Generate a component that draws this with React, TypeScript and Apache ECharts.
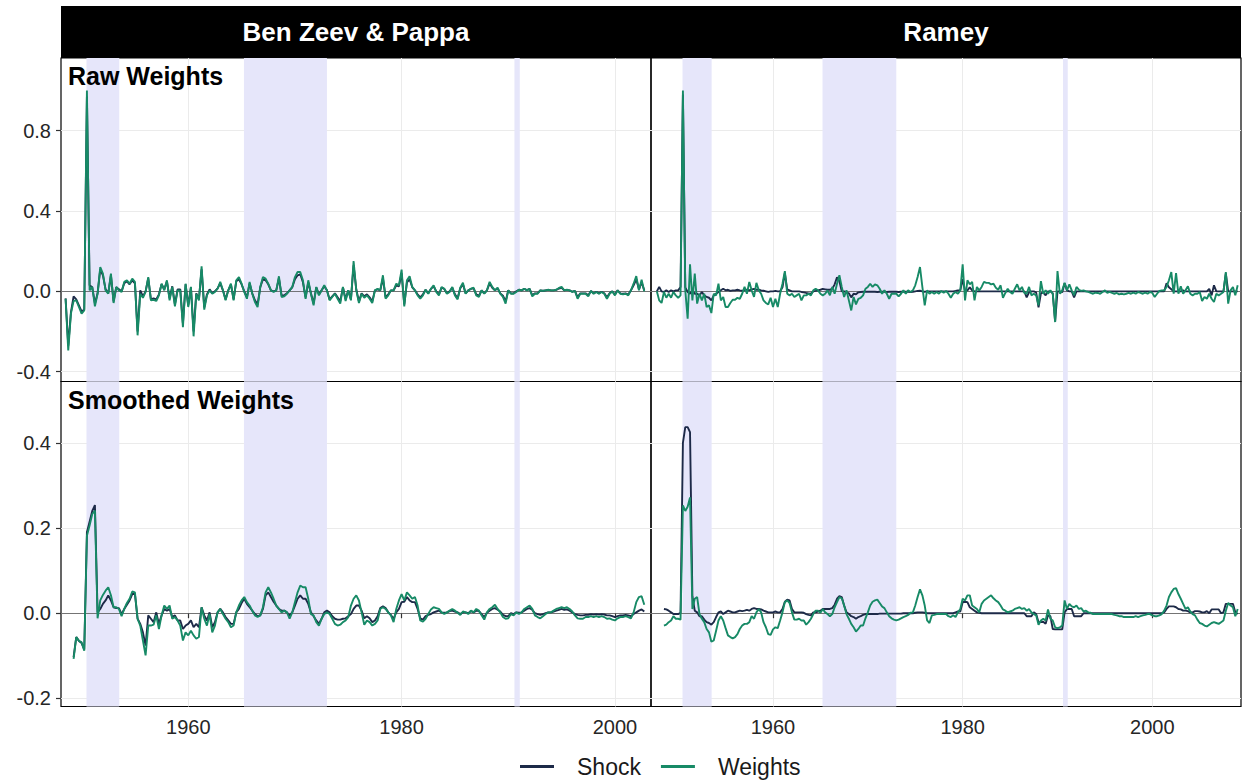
import React, { useEffect, useRef } from "react";
import * as echarts from "echarts";

// ---------- labels ----------
const COLUMN_TITLES = ["Ben Zeev & Pappa", "Ramey"];
const ROW_TITLES = ["Raw Weights", "Smoothed Weights"];
const SERIES_NAMES = ["Shock", "Weights"];
const X_TICKS = [1960, 1980, 2000];
const Y_TICKS_RAW = [-0.4, 0.0, 0.4, 0.8];
const Y_TICKS_SMOOTH = [-0.2, 0.0, 0.2, 0.4];

// shaded war periods (years)
const SHADED_PERIODS: [number, number][] = [
  [1950.46, 1953.53],
  [1965.22, 1973.0],
  [1990.58, 1991.08],
];

// first quarter of each series (year + (q-1)/4)
const BZP_RAW_START = 1948.5;
const BZP_SMOOTH_START = 1949.25;
const RAMEY_RAW_START = 1947.75;
const RAMEY_SMOOTH_START = 1948.5;

// ---------- Ben Zeev & Pappa: raw ----------
const BZP_RAW_WEIGHTS = [
  -0.037, -0.294, -0.111, -0.048, -0.045, -0.078, -0.111, -0.095, 1.0, 0.005,
  0.022, -0.075, -0.012, 0.121, 0.088, 0.005, -0.012, 0.088, -0.058, 0.022,
  0.005, -0.003, 0.047, 0.055, 0.038, 0.063, 0.047, -0.219, -0.012, -0.032,
  -0.003, 0.071, -0.045, -0.042, -0.048, -0.02, 0.038, 0.005, 0.055, -0.045,
  0.022, -0.075, 0.005, 0.005, -0.178, 0.038, -0.078, 0.022, -0.224, -0.012,
  -0.045, 0.125, -0.091, -0.02, 0.005, -0.012, -0.003, 0.013, 0.047, 0.005,
  -0.045, 0.005, 0.038, -0.045, 0.055, 0.071, 0.038, -0.003, -0.037, 0.047,
  -0.012, -0.053, -0.078, 0.022, 0.071, 0.063, 0.038, 0.005, -0.003, 0.005,
  0.075, -0.028, -0.025, -0.012, 0.005, 0.022, 0.071, 0.096, 0.096, 0.055,
  -0.037, 0.055, -0.012, -0.07, 0.022, -0.02, 0.005, 0.03, 0.005, -0.045,
  -0.028, -0.012, -0.037, -0.061, 0.022, -0.048, 0.005, -0.045, 0.151, 0.005,
  -0.058, -0.012, -0.032, -0.02, -0.037, -0.058, 0.005, 0.013, 0.005, 0.08,
  -0.037, -0.02, 0.005, 0.005, 0.038, 0.03, 0.108, -0.075, 0.055, 0.075,
  0.022, 0.005, -0.02, -0.037, -0.02, 0.008, -0.012, 0.013, 0.03, -0.003,
  -0.02, 0.022, 0.013, -0.012, -0.003, 0.022, -0.02, -0.04, 0.018, 0.043,
  -0.012, 0.005, 0.013, 0.018, -0.02, -0.028, 0.005, -0.012, 0.005, 0.047,
  0.022, 0.005, 0.018, -0.012, -0.028, -0.061, 0.005, -0.012, -0.012, -0.003,
  0.008, 0.005, 0.013, 0.005, 0.013, -0.025, -0.012, -0.012, 0.005, 0.002,
  0.005, 0.008, 0.005, 0.005, 0.008, 0.017, 0.022, 0.005, 0.008, 0.005,
  -0.003, 0.002, -0.037, -0.012, -0.012, -0.012, -0.025, 0.002, -0.012, -0.003,
  -0.012, -0.003, -0.012, -0.037, -0.012, 0.0, -0.02, 0.005, -0.012, -0.015,
  -0.012, -0.02, 0.005, 0.038, 0.076, 0.005, 0.058, 0.0,
];
const BZP_RAW_SHOCK = [
  -0.035, -0.27, -0.105, -0.025, -0.04, -0.07, -0.1, -0.09, 0.97, 0.03,
  0.02, -0.06, -0.01, 0.11, 0.08, 0.01, -0.01, 0.08, -0.05, 0.02,
  0.01, 0.0, 0.04, 0.05, 0.035, 0.055, 0.04, -0.2, 0.005, -0.025,
  0.0, 0.065, -0.04, -0.035, -0.04, -0.015, 0.035, 0.01, 0.05, -0.035,
  0.025, -0.065, 0.01, 0.01, -0.16, 0.035, -0.07, 0.02, -0.2, -0.01,
  -0.04, 0.11, -0.08, -0.015, 0.01, -0.01, 0.0, 0.015, 0.04, 0.005,
  -0.04, 0.005, 0.035, -0.04, 0.05, 0.06, 0.035, 0.0, -0.03, 0.04,
  -0.01, -0.045, -0.065, 0.02, 0.06, 0.055, 0.035, 0.005, 0.0, 0.005,
  0.065, -0.02, -0.02, -0.01, 0.005, 0.02, 0.06, 0.08, 0.085, 0.045,
  -0.03, 0.045, -0.01, -0.06, 0.02, -0.015, 0.005, 0.025, 0.005, -0.04,
  -0.025, -0.01, -0.03, -0.05, 0.02, -0.04, 0.005, -0.04, 0.13, 0.01,
  -0.05, -0.01, -0.025, -0.015, -0.03, -0.05, 0.005, 0.01, 0.005, 0.065,
  -0.03, -0.015, 0.005, 0.005, 0.03, 0.025, 0.09, -0.065, 0.045, 0.06,
  0.02, 0.005, -0.015, -0.03, -0.015, 0.008, -0.01, 0.012, 0.025, 0.0,
  -0.015, 0.018, 0.012, -0.01, 0.0, 0.018, -0.015, -0.035, 0.015, 0.035,
  -0.01, 0.005, 0.012, 0.015, -0.015, -0.022, 0.005, -0.01, 0.005, 0.04,
  0.018, 0.005, 0.015, -0.01, -0.022, -0.05, 0.005, -0.01, -0.01, 0.0,
  0.008, 0.005, 0.012, 0.006, 0.012, -0.02, -0.01, -0.01, 0.005, 0.003,
  0.005, 0.007, 0.005, 0.005, 0.007, 0.014, 0.018, 0.005, 0.007, 0.005,
  -0.002, 0.002, -0.03, -0.01, -0.01, -0.01, -0.02, 0.002, -0.01, -0.002,
  -0.01, -0.002, -0.01, -0.03, -0.01, 0.0, -0.016, 0.005, -0.01, -0.012,
  -0.01, -0.016, 0.005, 0.03, 0.06, 0.01, 0.045, 0.005,
];

// ---------- Ben Zeev & Pappa: smoothed ----------
const BZP_SMOOTH_WEIGHTS = [
  -0.107, -0.056, -0.065, -0.068, -0.088, 0.182, 0.206, 0.233, 0.241, -0.012,
  0.03, 0.043, 0.053, 0.061, 0.042, 0.014, 0.014, 0.01, -0.007, 0.01,
  0.024, 0.034, 0.051, 0.049, -0.013, -0.029, -0.064, -0.099, -0.029, -0.029,
  -0.027, -0.005, -0.037, -0.005, 0.018, 0.01, 0.018, -0.013, -0.009, -0.017,
  -0.029, -0.064, -0.045, -0.052, -0.041, -0.052, -0.06, -0.056, 0.014, -0.013,
  -0.029, -0.002, -0.045, -0.029, 0.002, 0.01, -0.002, -0.013, -0.021, -0.033,
  -0.029, 0.002, 0.018, 0.03, 0.038, 0.026, 0.018, 0.006, -0.005, -0.009,
  -0.005, 0.014, 0.049, 0.061, 0.049, 0.034, 0.018, 0.01, 0.002, 0.006,
  0.002, -0.013, 0.002, 0.026, 0.049, 0.065, 0.061, 0.061, 0.034, -0.002,
  -0.005, -0.021, -0.029, -0.013, -0.002, 0.002, -0.002, -0.013, -0.025, -0.029,
  -0.027, -0.021, -0.017, -0.009, 0.018, 0.034, 0.042, 0.03, 0.002, -0.027,
  -0.017, -0.021, -0.029, -0.025, -0.017, 0.01, 0.014, 0.01, 0.002, -0.005,
  -0.021, 0.01, 0.03, 0.045, 0.03, 0.049, 0.042, 0.034, 0.038, 0.018,
  -0.017, -0.02, -0.013, -0.002, 0.009, 0.014, 0.012, 0.01, 0.002, -0.002,
  0.002, 0.006, 0.01, 0.006, 0.001, -0.004, 0.004, 0.002, -0.002, 0.006,
  0.002, 0.01, 0.006, -0.005, -0.015, 0.002, 0.01, 0.014, 0.02, 0.01,
  0.002, -0.009, -0.013, -0.012, -0.002, -0.005, 0.002, -0.002, 0.002, 0.01,
  0.014, 0.018, 0.01, -0.005, -0.009, -0.012, -0.007, -0.002, 0.002, 0.002,
  0.006, 0.01, 0.012, 0.014, 0.012, 0.014, 0.01, 0.004, -0.005, -0.012,
  -0.013, -0.013, -0.009, -0.009, -0.007, -0.009, -0.007, -0.009, -0.007, -0.009,
  -0.013, -0.012, -0.015, -0.017, -0.012, -0.009, -0.009, -0.007, -0.009, -0.012,
  0.002, 0.026, 0.038, 0.04, 0.02,
];
const BZP_SMOOTH_SHOCK = [
  -0.103, -0.056, -0.065, -0.07, -0.085, 0.19, 0.215, 0.24, 0.254, 0.002,
  0.01, 0.022, 0.03, 0.042, 0.03, 0.014, 0.012, 0.012, -0.002, 0.01,
  0.02, 0.03, 0.045, 0.045, -0.013, -0.025, -0.045, -0.076, -0.005, -0.013,
  -0.021, 0.002, -0.025, -0.005, 0.01, 0.006, 0.01, -0.009, -0.005, -0.017,
  -0.017, -0.037, -0.029, -0.025, -0.017, -0.033, -0.025, -0.033, 0.014, -0.005,
  -0.017, 0.002, -0.033, -0.021, 0.002, 0.01, 0.002, -0.009, -0.017, -0.025,
  -0.025, 0.002, 0.01, 0.024, 0.034, 0.022, 0.014, 0.006, -0.002, -0.007,
  -0.005, 0.01, 0.042, 0.049, 0.038, 0.027, 0.018, 0.01, 0.006, 0.006,
  0.002, -0.005, 0.002, 0.018, 0.034, 0.042, 0.034, 0.034, 0.022, 0.002,
  -0.007, -0.017, -0.025, -0.013, 0.002, 0.006, 0.002, -0.007, -0.013, -0.015,
  -0.015, -0.013, -0.012, -0.007, -0.002, 0.01, 0.018, 0.018, 0.006, -0.012,
  -0.007, -0.012, -0.021, -0.017, -0.007, 0.012, 0.016, 0.012, 0.002, -0.004,
  -0.013, 0.002, 0.01, 0.026, 0.027, 0.038, 0.03, 0.026, 0.026, 0.01,
  -0.012, -0.015, -0.007, -0.004, -0.002, 0.002, 0.004, 0.006, 0.002, 0.001,
  0.002, 0.005, 0.006, 0.004, 0.002, -0.002, 0.002, 0.002, 0.0, 0.005,
  0.002, 0.006, 0.005, -0.002, -0.009, 0.001, 0.006, 0.01, 0.012, 0.008,
  0.004, -0.004, -0.007, -0.007, 0.0, -0.002, 0.002, 0.001, 0.002, 0.006,
  0.01, 0.012, 0.008, 0.0, -0.002, -0.004, -0.002, 0.0, 0.002, 0.002,
  0.004, 0.006, 0.008, 0.01, 0.008, 0.009, 0.006, 0.002, -0.002, -0.004,
  -0.005, -0.005, -0.004, -0.004, -0.002, -0.003, -0.002, -0.003, -0.002, -0.003,
  -0.005, -0.005, -0.007, -0.009, -0.007, -0.005, -0.005, -0.004, -0.005, -0.007,
  -0.002, 0.002, 0.006, 0.009, 0.004,
];

// ---------- Ramey: raw ----------
const RAMEY_RAW_WEIGHTS = [
  0.0, -0.045, -0.058, -0.003, -0.032, -0.012, -0.032, -0.003, -0.02, -0.032,
  -0.02, 1.0, 0.005, -0.136, 0.135, -0.045, 0.088, -0.061, -0.012, -0.045,
  -0.012, -0.078, -0.07, -0.108, -0.012, -0.02, 0.038, -0.045, -0.028, -0.078,
  -0.078, -0.058, -0.042, -0.042, -0.032, -0.037, -0.012, 0.022, -0.012, 0.047,
  0.005, -0.028, 0.042, 0.005, -0.012, -0.045, -0.058, -0.065, -0.032, -0.078,
  -0.037, -0.078, -0.012, 0.038, 0.101, -0.012, -0.02, -0.012, -0.028, -0.02,
  -0.012, -0.045, -0.02, -0.02, -0.012, -0.02, 0.005, 0.013, 0.005, -0.012,
  -0.02, -0.012, 0.005, -0.02, 0.022, -0.012, 0.038, 0.08, 0.022, -0.028,
  0.005, -0.045, -0.095, -0.028, -0.065, -0.037, -0.032, -0.02, 0.013, 0.022,
  0.038, 0.022, 0.035, 0.03, 0.013, -0.012, 0.005, -0.012, -0.037, -0.012,
  -0.012, -0.012, -0.025, -0.012, 0.005, -0.012, 0.005, -0.003, 0.005, 0.03,
  0.071, 0.121, 0.022, -0.07, 0.005, -0.012, -0.003, -0.012, -0.003, -0.012,
  0.002, -0.007, 0.002, -0.012, -0.032, -0.012, -0.003, -0.012, 0.005, 0.135,
  -0.045, 0.055, 0.035, 0.047, -0.045, 0.022, 0.005, 0.022, 0.047, 0.042,
  0.042, 0.035, 0.038, 0.018, 0.008, 0.03, -0.032, -0.008, 0.013, -0.003,
  -0.012, 0.013, 0.035, 0.005, 0.022, -0.008, -0.012, 0.022, -0.02, -0.012,
  -0.02, -0.07, 0.051, -0.012, 0.005, -0.012, 0.005, -0.012, -0.153, 0.101,
  -0.012, 0.005, 0.042, 0.005, 0.035, 0.005, -0.02, 0.022, 0.008, 0.002,
  0.005, 0.0, -0.003, -0.008, -0.012, -0.007, -0.008, -0.012, -0.003, 0.005,
  -0.008, -0.003, -0.008, -0.012, -0.008, -0.015, -0.012, -0.015, -0.012, -0.008,
  -0.012, -0.007, -0.012, -0.003, -0.008, -0.012, -0.007, -0.012, -0.003, -0.008,
  -0.028, -0.012, 0.002, 0.005, 0.005, 0.022, 0.055, 0.096, -0.012, 0.091,
  -0.012, 0.025, -0.012, 0.005, 0.025, -0.012, -0.02, -0.012, -0.012, -0.003,
  -0.048, -0.028, -0.037, -0.012, -0.037, -0.053, -0.012, -0.02, -0.012, -0.003,
  0.096, -0.061, 0.005, 0.022, -0.02, 0.03,
];
const RAMEY_RAW_SHOCK = [
  0.0, 0.022, 0.0, -0.003, 0.005, -0.003, 0.005, 0.0, 0.005, 0.005,
  0.022, 0.98, 0.02, -0.003, -0.012, 0.005, -0.012, -0.012, -0.02, -0.003,
  -0.02, -0.028, -0.032, -0.045, -0.02, -0.012, -0.003, 0.005, 0.013, 0.005,
  0.008, 0.002, 0.005, 0.005, 0.008, 0.005, 0.003, 0.005, 0.008, 0.005,
  0.01, 0.012, 0.008, 0.008, 0.005, 0.003, 0.0, -0.003, 0.0, 0.0,
  0.002, 0.0, 0.0, 0.02, 0.09, 0.01, 0.005, 0.0, 0.0, 0.0,
  0.0, -0.003, -0.005, -0.008, -0.01, -0.012, 0.0, 0.002, 0.005, 0.008,
  0.012, 0.01, 0.008, 0.008, 0.012, 0.035, 0.07, 0.05, 0.0, 0.0,
  -0.005, -0.01, -0.03, -0.012, -0.015, -0.005, -0.003, -0.002, -0.002, -0.002,
  -0.002, -0.002, -0.002, -0.003, -0.002, -0.002, -0.002, -0.003, -0.002, -0.002,
  -0.002, -0.002, -0.003, -0.002, -0.002, -0.002, -0.002, -0.003, -0.002, 0.0,
  0.002, 0.003, 0.0, -0.002, 0.0, 0.0, 0.0, 0.0, 0.0, 0.0,
  0.0, 0.0, 0.0, 0.0, 0.0, 0.0, 0.002, 0.005, 0.005, 0.06,
  0.003, 0.005, 0.02, 0.005, 0.0, 0.0, 0.0, 0.0, 0.0, 0.0,
  0.0, 0.0, 0.0, 0.0, 0.0, 0.0, 0.0, 0.0, 0.0, 0.0,
  0.0, 0.0, 0.0, 0.0, 0.0, 0.0, -0.03, -0.005, 0.0, 0.0,
  -0.005, -0.08, -0.01, -0.005, -0.02, 0.0, 0.0, -0.01, -0.15, 0.0,
  0.0, -0.005, 0.04, 0.005, 0.0, 0.0, -0.03, 0.0, 0.0, 0.0,
  0.0, 0.0, 0.0, 0.0, 0.0, 0.0, 0.0, 0.0, 0.0, 0.0,
  0.0, 0.0, 0.0, 0.0, 0.0, 0.0, 0.0, 0.0, 0.0, 0.0,
  0.0, 0.0, 0.0, 0.0, 0.0, 0.0, 0.0, 0.0, 0.0, 0.0,
  0.0, 0.0, 0.0, 0.0, 0.0, 0.04, 0.02, 0.01, 0.0, 0.0,
  0.0, 0.0, 0.005, 0.0, 0.0, 0.0, 0.0, 0.0, 0.0, 0.0,
  0.0, 0.0, 0.0, 0.012, -0.02, 0.03, 0.0, 0.0, 0.0, 0.0,
  0.09, 0.0, 0.0, 0.0, 0.0, 0.0,
];

// ---------- Ramey: smoothed ----------
const RAMEY_SMOOTH_WEIGHTS = [
  -0.029, -0.027, -0.021, -0.017, -0.007, -0.013, -0.013, -0.015, 0.253, 0.24,
  0.25, 0.272, 0.01, 0.034, 0.038, -0.002, -0.013, -0.021, -0.037, -0.045,
  -0.067, -0.064, -0.041, -0.017, -0.007, -0.017, -0.035, -0.052, -0.056, -0.059,
  -0.056, -0.049, -0.037, -0.029, -0.025, -0.025, -0.021, -0.007, -0.013, 0.002,
  0.01, 0.002, -0.021, -0.033, -0.049, -0.051, -0.038, -0.033, -0.035, -0.017,
  0.002, 0.026, 0.03, 0.024, 0.002, -0.015, -0.015, -0.013, -0.017, -0.017,
  -0.027, -0.021, -0.013, -0.002, 0.006, 0.006, 0.001, 0.01, 0.002, -0.002,
  -0.007, -0.002, 0.014, 0.026, 0.038, 0.035, 0.018, -0.002, -0.013, -0.025,
  -0.033, -0.043, -0.037, -0.029, -0.029, -0.012, 0.002, 0.018, 0.027, 0.03,
  0.032, 0.024, 0.016, 0.012, 0.002, -0.007, -0.012, -0.015, -0.017, -0.015,
  -0.012, -0.009, -0.007, -0.004, 0.001, 0.002, 0.018, 0.038, 0.056, 0.042,
  0.018, -0.017, -0.023, -0.005, -0.004, -0.002, -0.002, -0.002, -0.002, -0.002,
  -0.007, -0.009, -0.005, -0.009, 0.002, 0.01, 0.034, 0.03, 0.042, 0.042,
  0.018, 0.014, 0.01, 0.002, 0.022, 0.03, 0.034, 0.038, 0.042, 0.035,
  0.03, 0.026, 0.018, 0.009, 0.006, 0.002, 0.004, 0.006, 0.01, 0.012,
  0.014, 0.01, 0.012, 0.006, 0.01, 0.002, -0.002, -0.005, -0.027, -0.017,
  -0.013, -0.017, 0.009, -0.013, -0.017, -0.033, -0.035, -0.033, -0.029, 0.03,
  0.01, 0.022, 0.016, 0.014, 0.018, 0.01, 0.012, 0.004, 0.006, 0.002,
  0.001, -0.002, -0.002, -0.002, -0.002, -0.002, -0.002, -0.002, -0.002, -0.002,
  -0.004, -0.005, -0.007, -0.007, -0.009, -0.009, -0.009, -0.009, -0.009, -0.007,
  -0.009, -0.007, -0.005, -0.004, -0.002, -0.002, -0.005, -0.007, -0.007, -0.005,
  -0.002, 0.006, 0.018, 0.038, 0.049, 0.057, 0.059, 0.045, 0.034, 0.022,
  0.01, 0.014, 0.004, -0.002, -0.005, -0.015, -0.023, -0.025, -0.029, -0.031,
  -0.027, -0.023, -0.021, -0.023, -0.025, -0.021, -0.017, 0.006, 0.024, 0.018,
  0.014, -0.007, 0.01,
];
const RAMEY_SMOOTH_SHOCK = [
  0.01, 0.009, 0.006, 0.002, -0.002, -0.002, -0.002, 0.001, 0.4, 0.437,
  0.437, 0.425, 0.04, 0.006, 0.002, -0.007, -0.007, -0.015, -0.021, -0.023,
  -0.027, -0.021, -0.009, 0.002, 0.004, -0.002, 0.002, 0.006, 0.004, 0.002,
  0.002, 0.004, 0.006, 0.005, 0.006, 0.008, 0.006, 0.01, 0.012, 0.01,
  0.01, 0.009, 0.006, 0.004, 0.002, 0.002, 0.002, 0.004, 0.002, 0.002,
  0.01, 0.027, 0.032, 0.03, 0.01, 0.002, 0.002, 0.002, 0.002, 0.001,
  -0.002, -0.004, -0.005, 0.002, 0.002, 0.004, 0.006, 0.01, 0.01, 0.01,
  0.01, 0.012, 0.02, 0.034, 0.04, 0.038, 0.018, 0.002, -0.002, -0.007,
  -0.009, -0.013, -0.009, -0.007, -0.004, -0.002, -0.002, -0.002, -0.002, -0.002,
  -0.002, -0.001, -0.001, -0.001, -0.001, -0.001, -0.001, -0.001, -0.001, -0.001,
  -0.001, 0.0, 0.0, 0.0, 0.0, 0.0, 0.001, 0.002, 0.002, 0.002,
  0.001, 0.0, 0.0, 0.0, 0.0, 0.0, 0.0, 0.0, 0.0, 0.0,
  0.0, 0.0, 0.0, 0.002, 0.004, 0.004, 0.026, 0.027, 0.026, 0.014,
  0.01, 0.006, 0.002, 0.001, 0.0, 0.0, 0.0, 0.0, 0.0, 0.0,
  0.0, 0.0, 0.0, 0.0, 0.0, 0.0, 0.0, 0.0, 0.0, 0.0,
  0.0, 0.0, 0.0, -0.007, -0.007, -0.007, 0.002, -0.002, -0.021, -0.021,
  -0.02, -0.025, -0.005, -0.007, -0.037, -0.038, -0.038, -0.038, -0.038, 0.002,
  0.01, 0.01, 0.01, -0.007, -0.007, -0.007, -0.007, 0.0, 0.0, 0.0,
  0.0, 0.0, 0.0, 0.0, 0.0, 0.0, 0.0, 0.0, 0.0, 0.0,
  0.0, 0.0, 0.0, 0.0, 0.0, 0.0, 0.0, 0.0, 0.0, 0.0,
  0.0, 0.0, 0.0, 0.0, 0.0, 0.0, 0.0, 0.0, 0.0, 0.0,
  0.0, 0.002, 0.01, 0.016, 0.016, 0.016, 0.014, 0.01, 0.009, 0.006,
  0.006, 0.005, 0.002, 0.002, 0.005, 0.005, 0.004, 0.002, 0.002, 0.005,
  0.0, 0.009, 0.009, 0.009, 0.009, 0.0, 0.002, 0.022, 0.022, 0.022,
  0.022, 0.002, -0.002,
];

// ---------- style ----------
const SHOCK_COLOR = "#1d2a48";
const WEIGHTS_COLOR = "#178a66";
const SHADE_COLOR = "#e6e6fa";
const FONT = "'Liberation Sans', Arial, Helvetica, sans-serif";

const QUARTER = 0.25;
const toPairs = (start: number, values: number[]) =>
  values.map((v, k) => [start + k * QUARTER, v]);

// panel geometry
const GRID_LEFT = [61, 651];
const GRID_WIDTH = 590;
const GRID_TOP = [58, 381.5];
const GRID_HEIGHT = [323.5, 325];
const X_RANGE = [
  [1948.07, 2003.38],
  [1947.135, 2009.35],
];
const Y_RANGE = [
  [-0.449, 1.162],
  [-0.219, 0.544],
];

export default function App() {
  const ref = useRef<HTMLDivElement>(null);

  useEffect(() => {
    if (!ref.current) return;
    const chart = echarts.init(ref.current, undefined, { renderer: "svg" });

    const panelData = [
      {
        shock: toPairs(BZP_RAW_START, BZP_RAW_SHOCK),
        weights: toPairs(BZP_RAW_START, BZP_RAW_WEIGHTS),
      },
      {
        shock: toPairs(RAMEY_RAW_START, RAMEY_RAW_SHOCK),
        weights: toPairs(RAMEY_RAW_START, RAMEY_RAW_WEIGHTS),
      },
      {
        shock: toPairs(BZP_SMOOTH_START, BZP_SMOOTH_SHOCK),
        weights: toPairs(BZP_SMOOTH_START, BZP_SMOOTH_WEIGHTS),
      },
      {
        shock: toPairs(RAMEY_SMOOTH_START, RAMEY_SMOOTH_SHOCK),
        weights: toPairs(RAMEY_SMOOTH_START, RAMEY_SMOOTH_WEIGHTS),
      },
    ];

    const grids: any[] = [];
    const xAxes: any[] = [];
    const yAxes: any[] = [];
    const series: any[] = [];

    for (let row = 0; row < 2; row++) {
      for (let col = 0; col < 2; col++) {
        const p = row * 2 + col;
        const yTicks = row === 0 ? Y_TICKS_RAW : Y_TICKS_SMOOTH;
        grids.push({
          left: GRID_LEFT[col],
          top: GRID_TOP[row],
          width: GRID_WIDTH,
          height: GRID_HEIGHT[row],
          show: true,
          borderColor: "#000",
          borderWidth: 1.2,
          backgroundColor: "transparent",
          containLabel: false,
        });
        xAxes.push({
          gridIndex: p,
          type: "value",
          min: X_RANGE[col][0],
          max: X_RANGE[col][1],
          axisLine: { show: false },
          axisTick: {
            show: row === 1,
            customValues: X_TICKS,
            length: 5,
            lineStyle: { color: "#333", width: 1.2 },
          },
          axisLabel: {
            show: row === 1,
            customValues: X_TICKS,
            fontSize: 20,
            color: "#262626",
            fontFamily: FONT,
            margin: 10,
            formatter: (v: number) => String(Math.round(v)),
          },
          splitLine: { show: true, lineStyle: { color: "#ebebeb", width: 1 } },
        });
        yAxes.push({
          gridIndex: p,
          type: "value",
          min: Y_RANGE[row][0],
          max: Y_RANGE[row][1],
          axisLine: { show: false },
          axisTick: {
            show: col === 0,
            customValues: yTicks,
            length: 5,
            lineStyle: { color: "#333", width: 1.2 },
          },
          axisLabel: {
            show: col === 0,
            customValues: yTicks,
            fontSize: 20,
            color: "#262626",
            fontFamily: FONT,
            margin: 10,
            formatter: (v: number) => v.toFixed(1),
          },
          splitLine: { show: true, lineStyle: { color: "#ebebeb", width: 1 } },
        });

        series.push({
          type: "line",
          name: SERIES_NAMES[0],
          xAxisIndex: p,
          yAxisIndex: p,
          data: panelData[p].shock,
          showSymbol: false,
          symbol: "none",
          lineStyle: { color: SHOCK_COLOR, width: 1.9 },
          itemStyle: { color: SHOCK_COLOR },
          z: 3,
          silent: true,
          markArea: {
            silent: true,
            z: 1,
            label: { show: false },
            itemStyle: { color: SHADE_COLOR, opacity: 1 },
            data: SHADED_PERIODS.map(([a, b]) => [{ xAxis: a }, { xAxis: b }]),
          },
          markLine: {
            silent: true,
            z: 2,
            symbol: "none",
            label: { show: false },
            lineStyle: { color: "#555", width: 0.8, type: "solid" },
            data: [{ yAxis: 0 }],
          },
        });
        series.push({
          type: "line",
          name: SERIES_NAMES[1],
          xAxisIndex: p,
          yAxisIndex: p,
          data: panelData[p].weights,
          showSymbol: false,
          symbol: "none",
          lineStyle: { color: WEIGHTS_COLOR, width: 1.9 },
          itemStyle: { color: WEIGHTS_COLOR },
          z: 4,
          silent: true,
        });
      }
    }

    const graphics: any[] = [];
    COLUMN_TITLES.forEach((t, col) => {
      graphics.push({
        type: "rect",
        z: 10,
        shape: { x: GRID_LEFT[col], y: 6, width: GRID_WIDTH, height: 52 },
        style: { fill: "#000" },
      });
      graphics.push({
        type: "text",
        z: 11,
        x: GRID_LEFT[col] + GRID_WIDTH / 2,
        y: 32,
        style: {
          text: t,
          fill: "#fff",
          fontSize: 26,
          fontWeight: "bold",
          fontFamily: FONT,
          align: "center",
          verticalAlign: "middle",
        },
      });
    });
    ROW_TITLES.forEach((t, row) => {
      graphics.push({
        type: "text",
        z: 11,
        x: 68,
        y: GRID_TOP[row] + 18,
        style: {
          text: t,
          fill: "#000",
          fontSize: 25,
          fontWeight: "bold",
          fontFamily: FONT,
          align: "left",
          verticalAlign: "middle",
        },
      });
    });

    chart.setOption({
      animation: false,
      backgroundColor: "#fff",
      grid: grids,
      xAxis: xAxes,
      yAxis: yAxes,
      series,
      graphic: graphics,
      legend: {
        data: SERIES_NAMES,
        left: 515,
        top: 750,
        icon: "rect",
        itemWidth: 34,
        itemHeight: 3,
        itemGap: 20,
        selectedMode: false,
        textStyle: {
          fontSize: 23,
          color: "#1a1a1a",
          fontFamily: FONT,
          padding: [0, 0, 0, 18],
        },
      },
    });

    return () => chart.dispose();
  }, []);

  return (
    <div
      ref={ref}
      style={{ position: "absolute", left: 0, top: 0, width: 1243, height: 782 }}
    />
  );
}
